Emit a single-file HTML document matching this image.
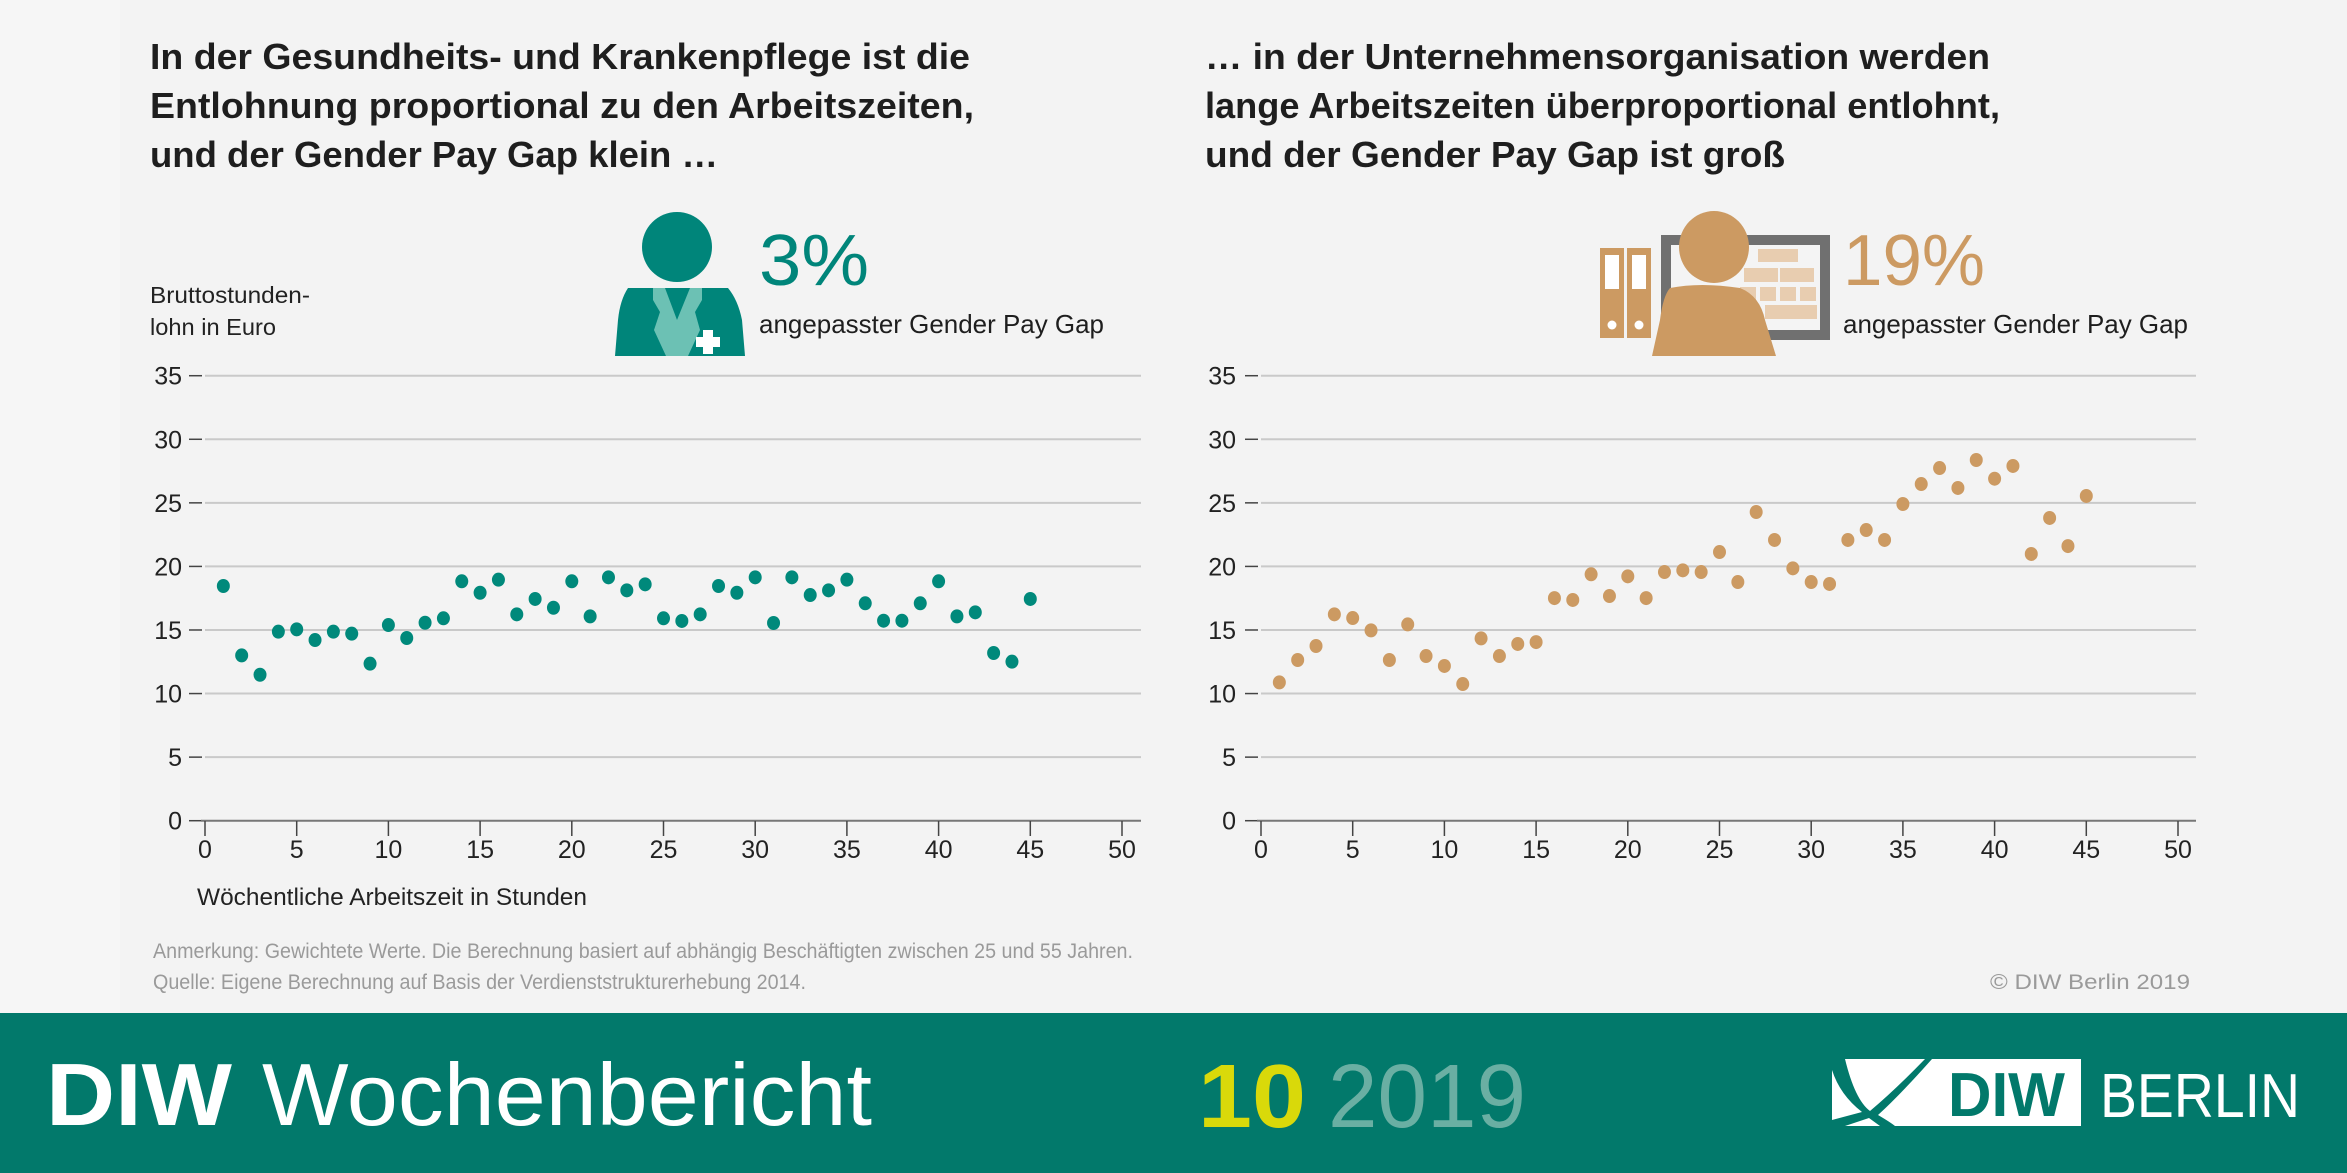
<!DOCTYPE html>
<html><head><meta charset="utf-8"><style>
html,body{margin:0;padding:0;background:#f6f6f6}
svg{display:block}
text{font-family:"Liberation Sans",sans-serif}
</style></head><body>
<svg id="s" width="2347" height="1173" viewBox="0 0 2347 1173" xmlns="http://www.w3.org/2000/svg">
<rect x="0" y="0" width="2347" height="1013" fill="#f6f6f6"/>
<rect x="120" y="0" width="2227" height="1013" fill="#f3f3f3"/>
<g fill="#1e1e1e" font-weight="bold" font-size="36">
<text x="150" y="69" textLength="820" lengthAdjust="spacingAndGlyphs">In der Gesundheits- und Krankenpflege ist die</text>
<text x="150" y="118" textLength="824" lengthAdjust="spacingAndGlyphs">Entlohnung proportional zu den Arbeitszeiten,</text>
<text x="150" y="167" textLength="568" lengthAdjust="spacingAndGlyphs">und der Gender Pay Gap klein …</text>
<text x="1205" y="69" textLength="785" lengthAdjust="spacingAndGlyphs">… in der Unternehmensorganisation werden</text>
<text x="1205" y="118" textLength="795" lengthAdjust="spacingAndGlyphs">lange Arbeitszeiten überproportional entlohnt,</text>
<text x="1205" y="167" textLength="580" lengthAdjust="spacingAndGlyphs">und der Gender Pay Gap ist groß</text>
</g>
<g fill="#222" font-size="23">
<text x="150" y="303" textLength="160" lengthAdjust="spacingAndGlyphs">Bruttostunden-</text>
<text x="150" y="335" textLength="126" lengthAdjust="spacingAndGlyphs">lohn in Euro</text>
</g>
<!-- left icon -->
<ellipse cx="677" cy="247" rx="35" ry="35" fill="#00857a"/>
<path d="M628 288 L728 288 Q738 300 742 320 L745 356 L615 356 L618 320 Q620 300 628 288Z" fill="#00857a"/>
<path d="M653 288 L665 288 L677 320 L690 288 L702 288 L702 300 L695 312 L700 330 L688 356 L666 356 L654 330 L660 312 L653 300Z" fill="#6cc1b4"/>
<rect x="703" y="330" width="10" height="24" fill="#fff"/><rect x="696" y="337" width="24" height="10" fill="#fff"/>
<text x="759" y="285" font-size="72" fill="#00857a" textLength="110" lengthAdjust="spacingAndGlyphs">3%</text>
<text x="759" y="333" font-size="26" fill="#1e1e1e" textLength="345" lengthAdjust="spacingAndGlyphs">angepasster Gender Pay Gap</text>
<!-- right icon -->
<rect x="1600" y="248" width="24" height="90" fill="#cc9a62"/><rect x="1627" y="248" width="24" height="90" fill="#cc9a62"/>
<rect x="1605" y="255" width="14" height="34" fill="#fff"/><rect x="1632" y="255" width="14" height="34" fill="#fff"/>
<circle cx="1612" cy="325" r="4.5" fill="#fff"/><circle cx="1639" cy="325" r="4.5" fill="#fff"/>
<rect x="1666" y="240" width="159" height="95" fill="#f4f4f4" stroke="#707070" stroke-width="10"/>
<g fill="#e8cdb0"><rect x="1758" y="249" width="40" height="13"/><rect x="1744" y="268" width="34" height="14"/><rect x="1780" y="268" width="34" height="14"/><rect x="1740" y="287" width="16" height="14"/><rect x="1760" y="287" width="16" height="14"/><rect x="1780" y="287" width="16" height="14"/><rect x="1800" y="287" width="16" height="14"/><rect x="1765" y="305" width="52" height="14"/></g>
<ellipse cx="1714" cy="247" rx="35" ry="36" fill="#cc9a62"/>
<path d="M1670 288 Q1700 282 1740 288 Q1760 296 1765 320 L1776 356 L1652 356 L1660 320 Q1663 296 1670 288Z" fill="#cc9a62"/>
<text x="1843" y="285" font-size="72" fill="#cc9a62" textLength="142" lengthAdjust="spacingAndGlyphs">19%</text>
<text x="1843" y="333" font-size="26" fill="#1e1e1e" textLength="345" lengthAdjust="spacingAndGlyphs">angepasster Gender Pay Gap</text>
<g id="charts"></g>
<text x="197" y="905" font-size="24" fill="#222" textLength="390" lengthAdjust="spacingAndGlyphs">Wöchentliche Arbeitszeit in Stunden</text>
<g fill="#9a9a9a" font-size="21">
<text x="153" y="958" textLength="980" lengthAdjust="spacingAndGlyphs">Anmerkung: Gewichtete Werte. Die Berechnung basiert auf abhängig Beschäftigten zwischen 25 und 55 Jahren.</text>
<text x="153" y="989" textLength="653" lengthAdjust="spacingAndGlyphs">Quelle: Eigene Berechnung auf Basis der Verdienststrukturerhebung 2014.</text>
<text x="1990" y="989" textLength="200" lengthAdjust="spacingAndGlyphs">© DIW Berlin 2019</text>
</g>
<rect x="0" y="1013" width="2347" height="160" fill="#02796b"/>
<text x="46" y="1125" font-size="88" font-weight="bold" fill="#fff" textLength="186" lengthAdjust="spacingAndGlyphs">DIW</text>
<text x="262" y="1125" font-size="88" fill="#fff" textLength="610" lengthAdjust="spacingAndGlyphs">Wochenbericht</text>
<text x="1198" y="1127" font-size="90" font-weight="bold" fill="#d9d90a" textLength="108" lengthAdjust="spacingAndGlyphs">10</text>
<text x="1328" y="1127" font-size="90" fill="#6aafa3" textLength="198" lengthAdjust="spacingAndGlyphs">2019</text>
<rect x="1832" y="1059" width="249" height="67" fill="#fff"/>
<path d="M1832 1059 L1845 1059 Q1855 1100 1870 1111 Q1895 1090 1925 1059 L1932 1059 Q1900 1095 1878 1115 Q1890 1122 1895 1126 L1880 1126 L1869 1118 L1845 1126 L1832 1126 L1832 1120 L1862 1112 Q1840 1095 1832 1070Z" fill="#02796b"/>
<text x="1948" y="1116" font-size="62" font-weight="bold" fill="#02796b" textLength="117" lengthAdjust="spacingAndGlyphs">DIW</text>
<text x="2100" y="1117" font-size="62" fill="#fff" textLength="200" lengthAdjust="spacingAndGlyphs">BERLIN</text>
</svg>
<script>
var L=[18.46,13.0,11.48,14.87,15.05,14.21,14.87,14.71,12.35,15.39,14.37,15.57,15.92,18.83,17.93,18.96,16.23,17.44,16.75,18.83,16.07,19.14,18.12,18.59,15.92,15.71,16.23,18.46,17.93,19.14,15.55,19.14,17.75,18.12,18.96,17.1,15.73,15.73,17.1,18.83,16.07,16.39,13.19,12.51,17.44];
var R=[10.88,12.64,13.74,16.23,15.94,14.97,12.64,15.44,12.95,12.17,10.75,14.34,12.95,13.9,14.05,17.51,17.36,19.38,17.67,19.22,17.51,19.56,19.69,19.56,21.13,18.77,24.28,22.08,19.85,18.77,18.62,22.08,22.86,22.08,24.91,26.48,27.74,26.17,28.37,26.9,27.9,20.98,23.81,21.6,25.54];
function Y(v){return 820.7-12.714*v;}
var h='';
function chart(x0,xe,lab,data,col){
 for(var v=0;v<=35;v+=5){var y=Y(v);
  if(v>0)h+='<line x1="'+x0+'" x2="'+xe+'" y1="'+y+'" y2="'+y+'" stroke="#c9c9c9" stroke-width="2"/>';
  h+='<line x1="'+(x0-16)+'" x2="'+(x0-3)+'" y1="'+y+'" y2="'+y+'" stroke="#444" stroke-width="1.5"/>';
  h+='<text x="'+lab+'" y="'+(y+9)+'" text-anchor="end" font-size="25" fill="#222">'+v+'</text>';}
 h+='<line x1="'+(x0-4)+'" x2="'+xe+'" y1="820.7" y2="820.7" stroke="#777" stroke-width="2"/>';
 for(var v=0;v<=50;v+=5){var x=x0+18.34*v;
  h+='<line x1="'+x+'" x2="'+x+'" y1="821" y2="836" stroke="#444" stroke-width="1.5"/>';
  h+='<text x="'+x+'" y="858" text-anchor="middle" font-size="25" fill="#222">'+v+'</text>';}
 for(var i=0;i<data.length;i++){h+='<ellipse cx="'+(x0+18.34*(i+1))+'" cy="'+Y(data[i])+'" rx="6.5" ry="7" fill="'+col+'"/>';}
}
chart(205,1141,182,L,'#00897b');
chart(1261,2196,1236,R,'#cc9a62');
document.getElementById('charts').innerHTML=h;
</script>
</body></html>
